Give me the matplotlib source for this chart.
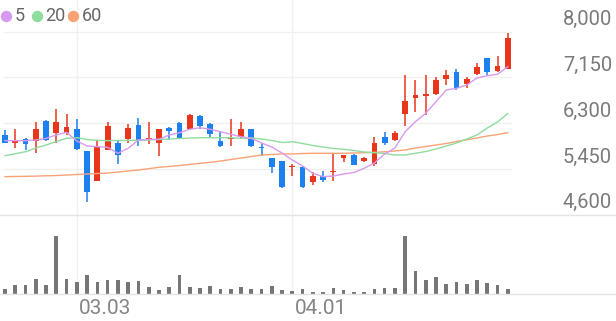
import matplotlib
matplotlib.use("Agg")
import matplotlib.pyplot as plt
import matplotlib.transforms as mtransforms
from matplotlib.lines import Line2D
import numpy as np

plt.rcParams['font.family'] = ['Roboto', 'DejaVu Sans']

# ------------------------------------------------------------
# DATA
# ------------------------------------------------------------
opens = [6080, 5940, 6000, 5960, 6340, 6120, 6120, 6190, 5780, 5230,
         5810, 5930, 6000, 6270, 5990, 5940, 6220, 6300, 6190, 6440,
         6290, 5960, 6000, 6040, 6190, 5860, 5650, 5590, 5480, 5490,
         5210, 5320, 5390, 5660, 5710, 5590, 5540, 6040, 5990, 6480,
         6760, 6800, 6840, 7130, 7260, 7030, 7210, 7510, 7270, 7310]
highs = [6170, 6190, 6030, 6320, 6360, 6560, 6470, 6370, 5790, 5990,
         6330, 5990, 6280, 6390, 6320, 6200, 6230, 6330, 6470, 6450,
         6300, 6160, 6370, 6330, 6200, 5940, 5660, 5600, 5540, 5500,
         5400, 5420, 5750, 5710, 5720, 5680, 6040, 6130, 6160, 7200,
         7100, 7200, 7150, 7280, 7310, 7150, 7410, 7520, 7540, 7970]
lows = [5930, 5830, 5800, 5740, 5960, 5940, 6080, 5800, 4840, 5220,
        5800, 5540, 5930, 5880, 5910, 5690, 5980, 6020, 6180, 6200,
        6050, 5850, 5880, 6020, 5860, 5690, 5380, 5100, 5320, 5100,
        5150, 5210, 5230, 5570, 5520, 5580, 5510, 5900, 5960, 6240,
        6510, 6450, 6820, 7010, 6920, 6960, 7200, 7200, 7260, 7300]
closes = [5940, 5990, 5910, 6190, 5980, 6320, 6230, 5820, 5030, 5860,
          6240, 5710, 6220, 5990, 6020, 6190, 6160, 6030, 6450, 6240,
          6100, 5880, 6030, 6190, 5880, 5830, 5490, 5110, 5510, 5110,
          5310, 5250, 5410, 5710, 5520, 5660, 5940, 5930, 6110, 6710,
          6820, 6850, 7100, 7200, 6950, 7130, 7350, 7260, 7360, 7890]

ma5 = [5975, 5975, 5975, 5988, 6019, 6081, 6131, 5969, 5876, 5863,
       5852, 5741, 5834, 5988, 6001, 6001, 6081, 6123, 6187, 6216,
       6187, 6142, 6094, 6049, 6019, 5932, 5858, 5746, 5616, 5505,
       5369, 5306, 5319, 5356, 5384, 5462, 5560, 5728, 5839, 6142,
       6328, 6484, 6699, 6917, 6948, 7010, 7140, 7182, 7209, 7350]
ma20 = [5696, 5733, 5770, 5839, 5895, 5960, 6019, 6031, 5997, 5982,
        5975, 5979, 5982, 5982, 5988, 5997, 6006, 6016, 6025, 6031,
        6031, 6031, 6031, 6019, 6025, 6006, 5979, 5941, 5956, 5923,
        5886, 5858, 5830, 5815, 5793, 5765, 5752, 5737, 5709, 5709,
        5741, 5774, 5821, 5876, 5932, 6006, 6081, 6211, 6322, 6480]
ma60 = [5306, 5310, 5313, 5317, 5323, 5328, 5337, 5347, 5356, 5365,
        5375, 5393, 5412, 5430, 5455, 5481, 5496, 5514, 5533, 5555,
        5573, 5597, 5625, 5653, 5681, 5709, 5718, 5728, 5728, 5737,
        5741, 5741, 5741, 5741, 5746, 5752, 5759, 5769, 5784, 5802,
        5839, 5867, 5895, 5923, 5960, 5993, 6025, 6062, 6089, 6123]

volume = [100000, 186000, 186000, 300000, 186000, 1154000, 300000, 246000, 380000, 234000,
          286000, 286000, 246000, 266000, 134000, 86000, 146000, 380000, 134000, 120000,
          166000, 106000, 106000, 140000, 94000, 106000, 160000, 74000, 54000, 100000,
          46000, 46000, 120000, 74000, 34000, 40000, 106000, 120000, 120000, 1140000,
          454000, 274000, 340000, 200000, 246000, 200000, 286000, 220000, 186000, 106000]

date_tick_idx = [7, 28]
date_tick_labels = ['03.03', '04.01']
price_ticks = [4600, 5450, 6300, 7150, 8000]
ma_names = ['5', '20', '60']

# ------------------------------------------------------------
# STYLE
# ------------------------------------------------------------
UP = '#e8361c'
DOWN = '#1c80ee'
MA_COLORS = ['#d79af0', '#8edd9e', '#f8a276']
GRID = '#f0f0f0'
SEP = '#e4e4e4'
VOL = '#767676'

W, H = 616, 321
fig = plt.figure(figsize=(W / 100, H / 100), dpi=100)


def box(x0, y0, x1, y1):
    # pixel box (y measured from top) -> figure fraction rect
    return [x0 / W, 1 - y1 / H, (x1 - x0) / W, (y1 - y0) / H]


ax = fig.add_axes(box(0, 0, 513, 214.7))
axv = fig.add_axes(box(0, 214.7, 513, 294))

n = len(closes)
x = np.arange(n)
for a in (ax, axv):
    a.set_xlim(-0.49, n - 0.49)
    a.axis('off')

# price scale: 8000 at 31.7px, 4600 at 214.7px
top_val = 8000 + 31.7 * (8000 - 4600) / 183.0
ax.set_ylim(4600, top_val)

# gridlines
for v in price_ticks[1:]:
    ax.hlines(v, -0.2, n - 0.6, color=GRID, lw=1.0, zorder=0)
for i in date_tick_idx:
    ax.axvline(i, color=GRID, lw=1.0, zorder=0)
    axv.axvline(i, color=GRID, lw=1.0, zorder=0)

# full-width separator lines
for ypx in (214.7, 294):
    fig.add_artist(Line2D([0, 1], [1 - ypx / H] * 2, color=SEP, lw=1.0))

# candles
o = np.array(opens)
c = np.array(closes)
colors = [UP if cc >= oo else DOWN for oo, cc in zip(o, c)]
ax.vlines(x, lows, highs, colors=colors, lw=1.1, zorder=2)
body_bottom = np.minimum(o, c)
body_h = np.maximum(np.abs(c - o), 22)
ax.bar(x, body_h, bottom=body_bottom, width=0.56, color=colors, lw=0, zorder=2)

# moving averages
for series, col in zip((ma60, ma20, ma5), MA_COLORS[::-1]):
    ax.plot(x, series, color=col, lw=1.0, zorder=3)

# volume
axv.set_ylim(0, max(volume) / 0.735)
axv.bar(x, volume, width=0.36, color=VOL, lw=0, zorder=2)

# y tick labels (right side, sitting just above each gridline)
ytrans = mtransforms.blended_transform_factory(fig.transFigure, ax.transData)
ytrans = mtransforms.offset_copy(ytrans, fig=fig, y=8.6, units='points')
for v in price_ticks:
    ax.text(612 / W, v, f'{v:,}', transform=ytrans, ha='right', va='center',
            fontsize=14.5, color='#7a7a7a', clip_on=False)

# x tick labels (left aligned at the gridline)
xtrans = mtransforms.blended_transform_factory(axv.transData, fig.transFigure)
xtrans = mtransforms.offset_copy(xtrans, fig=fig, x=1.5, units='points')
for i, lab in zip(date_tick_idx, date_tick_labels):
    axv.text(i, 1 - 309 / H, lab, transform=xtrans, ha='left', va='center',
             fontsize=15, color='#858585', clip_on=False)

# legend
dot_x = [6, 37, 73]
txt_x = [15, 45, 82]
for dx, tx, name, col in zip(dot_x, txt_x, ma_names, MA_COLORS):
    fig.add_artist(Line2D([dx / W], [1 - 16 / H], marker='o', markersize=7.2,
                          color=col, lw=0))
    fig.text(tx / W, 1 - 16 / H, name, ha='left', va='center',
             fontsize=13, color='#666666')

plt.savefig('out.png', dpi=100)
